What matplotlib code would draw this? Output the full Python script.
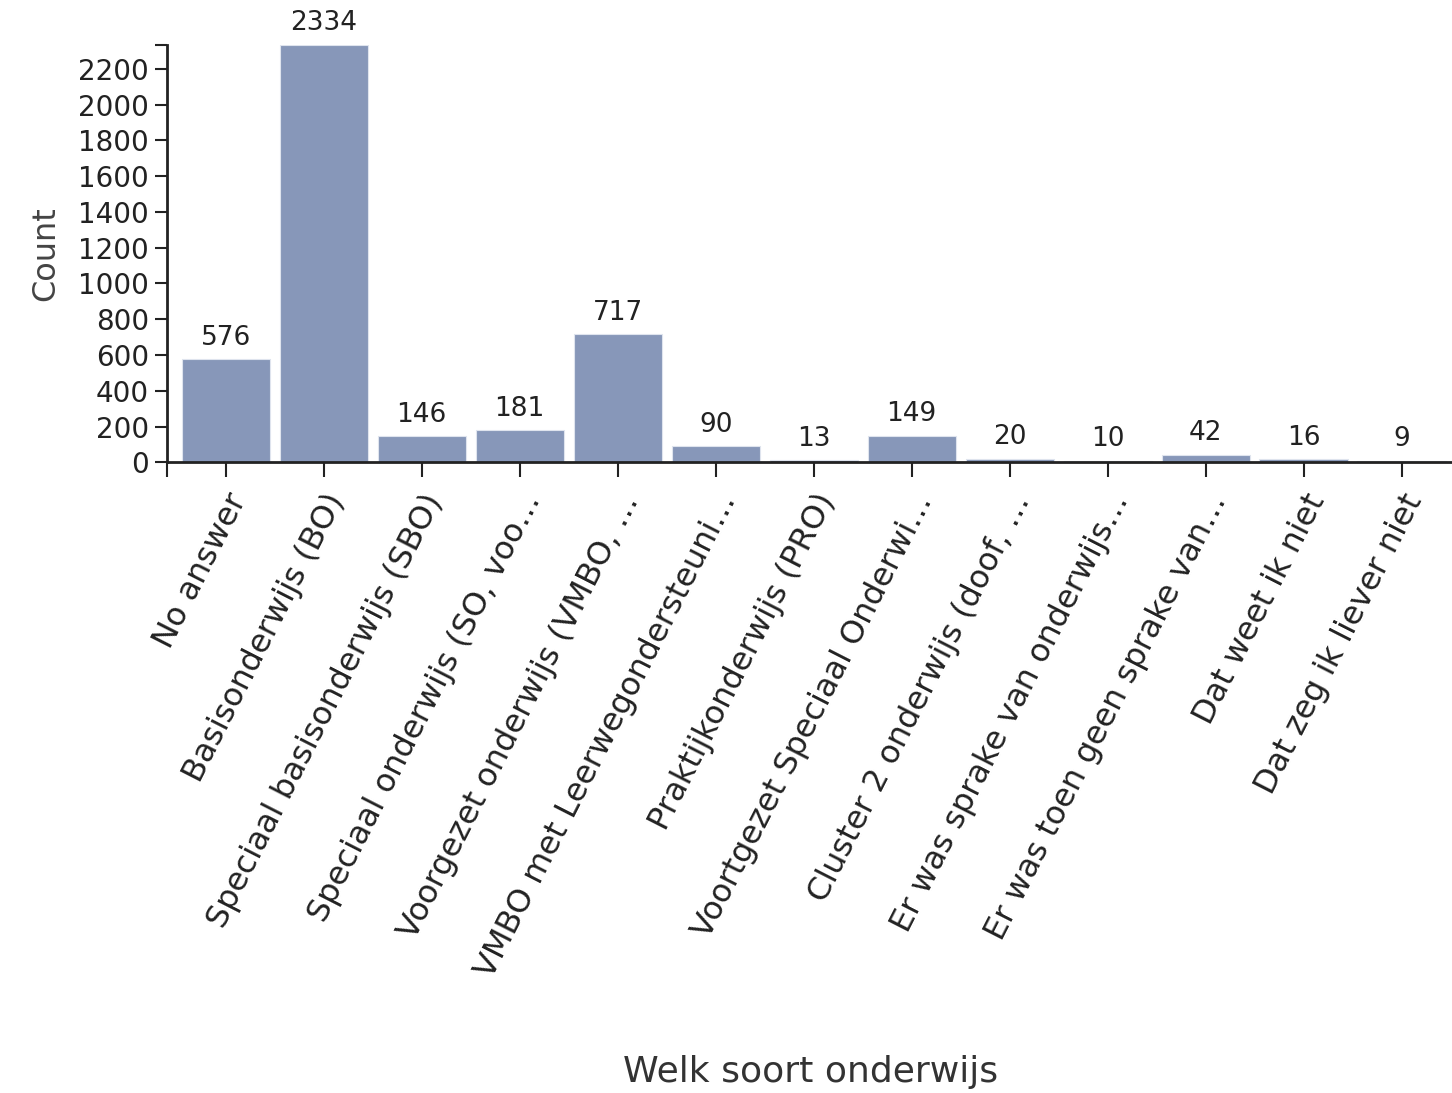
import matplotlib
matplotlib.use('Agg')
import matplotlib.pyplot as plt

categories = ['No answer', 'Basisonderwijs (BO)', 'Speciaal basisonderwijs (SBO)',
              'Speciaal onderwijs (SO, voo\u2026', 'Voorgezet onderwijs (VMBO, \u2026',
              'VMBO met Leerwegondersteuni\u2026', 'Praktijkonderwijs (PRO)',
              'Voortgezet Speciaal Onderwi\u2026', 'Cluster 2 onderwijs (doof, \u2026',
              'Er was sprake van onderwijs\u2026', 'Er was toen geen sprake van\u2026',
              'Dat weet ik niet', 'Dat zeg ik liever niet']
counts = [576, 2334, 146, 181, 717, 90, 13, 149, 20, 10, 42, 16, 9]
yticks = list(range(0, 2201, 200))

plt.rcParams['font.family'] = ['DejaVu Sans']

fig = plt.figure(figsize=(14.52, 10.93), dpi=100)
ax = fig.add_axes([0.115, 0.577, 0.884, 0.382])

x = range(len(categories))
bars = ax.bar(x, counts, width=0.9, color='#8797b9', edgecolor='#dfe4ee', linewidth=0.8)

# value labels above bars
for xi, v in zip(x, counts):
    ax.annotate(str(v), (xi, v), xytext=(0, 6), textcoords='offset points',
                ha='center', va='bottom', fontsize=19, color='#222222')

ax.set_xlim(-0.6, 12.5)
ax.set_ylim(0, max(counts))
ax.set_yticks(yticks)
ax.set_yticklabels([str(t) for t in yticks], fontsize=20, color='#222222')
ax.set_xticks(list(x))
ax.set_xticklabels(categories, rotation=63, ha='right', va='top',
                   rotation_mode='anchor', fontsize=23, color='#222222')

# outer ticks at the axis ends
ax.set_yticks([max(counts)], minor=True)
ax.set_xticks([-0.6], minor=True)
ax.tick_params(axis='y', which='both', length=9, width=1.5, color='#222222', pad=4)
ax.tick_params(axis='x', which='both', length=11, width=1.5, color='#222222', pad=8)

for s in ['top', 'right']:
    ax.spines[s].set_visible(False)
for s in ['left', 'bottom']:
    ax.spines[s].set_linewidth(2)
    ax.spines[s].set_color('#222222')

ax.set_ylabel('Count', fontsize=23, color='#444444', labelpad=12)
fig.text(0.558, 0.004, 'Welk soort onderwijs', ha='center', va='bottom',
         fontsize=26, color='#333333')

fig.savefig('out.png', dpi=100)
